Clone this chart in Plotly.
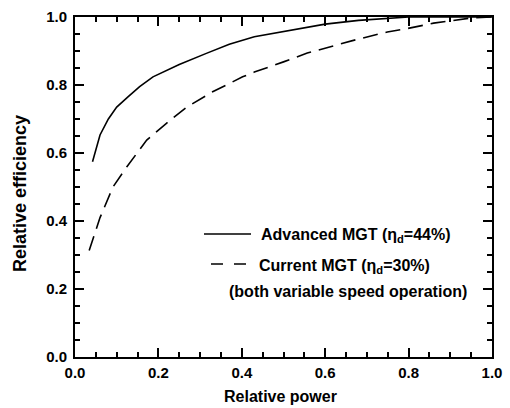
import plotly.graph_objects as go

# Advanced MGT (solid)
adv_x = [0.042, 0.06, 0.08, 0.1, 0.127, 0.155, 0.187, 0.25, 0.315, 0.37, 0.43, 0.5, 0.6, 0.68, 0.75, 0.8, 0.9, 1.0]
adv_y = [0.574, 0.653, 0.70, 0.735, 0.765, 0.795, 0.824, 0.86, 0.893, 0.92, 0.942, 0.958, 0.979, 0.99, 0.997, 1.0, 1.0, 1.0]
# Current MGT (dashed)
cur_x = [0.034, 0.06, 0.091, 0.124, 0.172, 0.22, 0.268, 0.33, 0.402, 0.43, 0.5, 0.557, 0.62, 0.67, 0.749, 0.797, 0.86, 0.95, 1.0]
cur_y = [0.313, 0.41, 0.50, 0.559, 0.638, 0.688, 0.735, 0.78, 0.824, 0.838, 0.868, 0.894, 0.915, 0.932, 0.956, 0.966, 0.982, 0.997, 1.0]

x_ticks = [0.0, 0.2, 0.4, 0.6, 0.8, 1.0]
y_ticks = [0.0, 0.2, 0.4, 0.6, 0.8, 1.0]

FONT = "Liberation Sans, Arial, sans-serif"

# plot-area geometry in pixels (for paper-coordinate conversions)
L, R, T, B = 75, 492, 17, 357
def px(x):
    return (x - L) / (R - L)
def py(y):
    return (B - y) / (B - T)

fig = go.Figure()
fig.add_trace(go.Scatter(x=adv_x, y=adv_y, mode="lines", line=dict(color="black", width=1.6),
                         name="Advanced MGT", showlegend=False))
fig.add_trace(go.Scatter(x=cur_x, y=cur_y, mode="lines", line=dict(color="black", width=1.6, dash="15px,8px"),
                         name="Current MGT", showlegend=False))

axis_common = dict(
    showline=True, linecolor="black", linewidth=2, mirror="allticks",
    ticks="inside", ticklen=9, tickwidth=2, tickcolor="black",
    showgrid=False, zeroline=False, tickformat=".1f", automargin=False,
    tickfont=dict(family=FONT, size=15, color="black", weight="bold"),
    minor=dict(ticks="inside", ticklen=5, tickwidth=1.5, tickcolor="black", dtick=0.05),
)
fig.update_xaxes(range=[0, 1], tickvals=x_ticks, ticklabelstandoff=1, **axis_common)
fig.update_yaxes(range=[0, 1], tickvals=y_ticks, ticklabelstandoff=3, **axis_common)

# axis titles as annotations
fig.add_annotation(xref="paper", yref="paper", x=px(280), y=py(396), xanchor="center", yanchor="middle",
                   text="Relative power", showarrow=False,
                   font=dict(family=FONT, size=16, color="black", weight="bold"))
fig.add_annotation(xref="paper", yref="paper", x=px(20), y=py(193), xanchor="center", yanchor="middle",
                   text="Relative efficiency", textangle=-90, showarrow=False,
                   font=dict(family=FONT, size=18, color="black", weight="bold"))

# legend samples
fig.add_shape(type="line", xref="paper", yref="paper", x0=px(204), x1=px(251),
              y0=py(234), y1=py(234), line=dict(color="black", width=1.6))
fig.add_shape(type="line", xref="paper", yref="paper", x0=px(211), x1=px(246),
              y0=py(264), y1=py(264), line=dict(color="black", width=1.6, dash="12px,11px"))
LEG = dict(family=FONT, size=16, color="black", weight="bold")
fig.add_annotation(xref="paper", yref="paper", x=px(259), y=py(236), xanchor="left", yanchor="middle",
                   text="Advanced MGT (η<sub>d</sub>=44%)", showarrow=False, font=LEG)
fig.add_annotation(xref="paper", yref="paper", x=px(257), y=py(266), xanchor="left", yanchor="middle",
                   text="Current MGT (η<sub>d</sub>=30%)", showarrow=False, font=LEG)
fig.add_annotation(xref="paper", yref="paper", x=px(227), y=py(291), xanchor="left", yanchor="middle",
                   text="(both variable speed operation)", showarrow=False, font=LEG)

fig.update_layout(width=510, height=408, margin=dict(l=L, r=510 - R, t=T, b=408 - B),
                  plot_bgcolor="white", paper_bgcolor="white", showlegend=False)
fig.write_html("out.html", config={"displayModeBar": False},
               post_script="document.body.style.margin='0';")
